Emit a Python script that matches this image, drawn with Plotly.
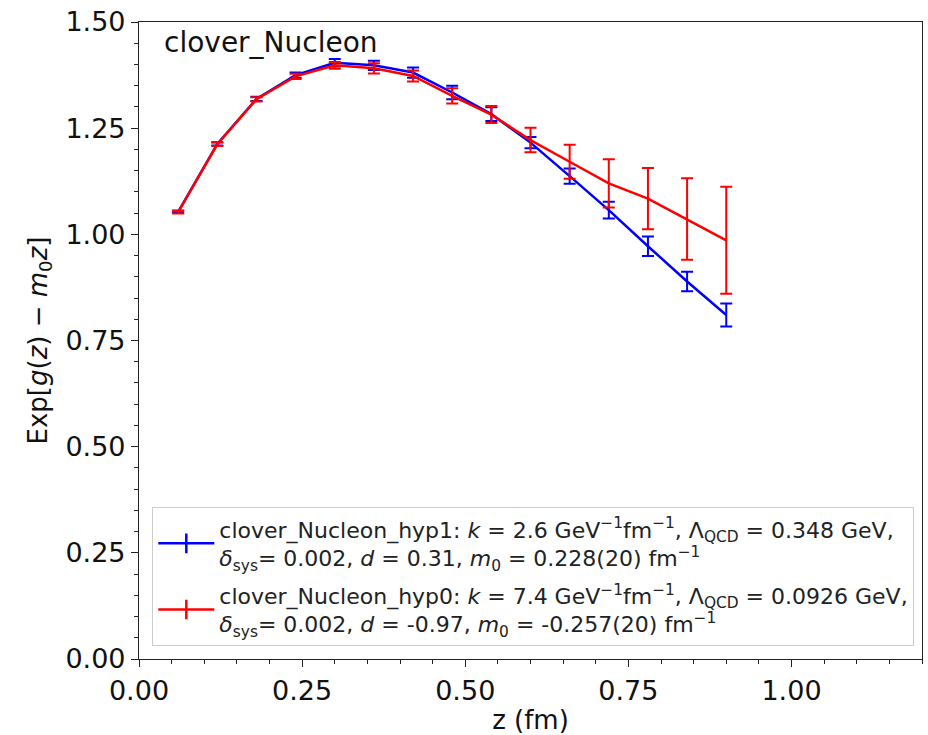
import plotly.graph_objects as go

z = [0.06, 0.12, 0.18, 0.24, 0.30, 0.36, 0.42, 0.48, 0.54, 0.60, 0.66, 0.72, 0.78, 0.84, 0.90]

hyp1_y = [1.053, 1.213, 1.319, 1.375, 1.404, 1.398, 1.381, 1.334, 1.283, 1.216, 1.137, 1.057, 0.972, 0.889, 0.810]
hyp1_err = [0.003, 0.004, 0.005, 0.006, 0.009, 0.011, 0.012, 0.016, 0.016, 0.013, 0.018, 0.020, 0.023, 0.023, 0.027]

hyp0_y = [1.052, 1.212, 1.318, 1.372, 1.398, 1.391, 1.373, 1.326, 1.282, 1.222, 1.171, 1.120, 1.084, 1.036, 0.986]
hyp0_err = [0.003, 0.004, 0.005, 0.006, 0.008, 0.012, 0.013, 0.018, 0.020, 0.029, 0.040, 0.057, 0.072, 0.096, 0.126]

name1 = ("clover_Nucleon_hyp1: <i>k</i> = 2.6 GeV<sup>\u22121</sup>fm<sup>\u22121</sup>, "
         "\u039b<sub>QCD</sub> = 0.348 GeV,<br><i>\u03b4</i><sub>sys</sub>= 0.002, <i>d</i> = 0.31, "
         "<i>m</i><sub>0</sub> = 0.228(20) fm<sup>\u22121</sup>")
name0 = ("clover_Nucleon_hyp0: <i>k</i> = 7.4 GeV<sup>\u22121</sup>fm<sup>\u22121</sup>, "
         "\u039b<sub>QCD</sub> = 0.0926 GeV,<br><i>\u03b4</i><sub>sys</sub>= 0.002, <i>d</i> = -0.97, "
         "<i>m</i><sub>0</sub> = -0.257(20) fm<sup>\u22121</sup>")

BLUE = "#0000ff"
RED = "#ff0000"

fig = go.Figure()
for y, e, c in [(hyp1_y, hyp1_err, BLUE), (hyp0_y, hyp0_err, RED)]:
    fig.add_trace(go.Scatter(
        x=z, y=y, mode="lines", line=dict(color=c, width=2.5),
        error_y=dict(type="data", array=e, color=c, thickness=2, width=6),
        showlegend=False, hoverinfo="skip"))

for nm, c, g in [(name1, BLUE, "g1"), (name0, RED, "g0")]:
    fig.add_trace(go.Scatter(
        x=[None], y=[None], mode="lines+markers", name=nm, legendgroup=g,
        line=dict(color=c, width=2.5),
        marker=dict(symbol="line-ns-open", size=14, color=c, line=dict(color=c, width=2.5))))

axis_common = dict(
    showline=True, linecolor="#222", linewidth=1.2, mirror=True,
    ticks="outside", ticklen=7, tickwidth=1.2, tickcolor="#222",
    showgrid=False, zeroline=False,
    tickfont=dict(family="DejaVu Sans", size=27, color="#111"),
    tickformat=".2f",
)

fig.update_xaxes(range=[0, 1.2], dtick=0.25, tick0=0,
                 minor=dict(dtick=0.05, ticks="outside", ticklen=4, tickcolor="#222"),
                 title=dict(text="z (fm)", font=dict(family="DejaVu Sans", size=26, color="#111"), standoff=2),
                 **axis_common)
fig.update_yaxes(range=[0, 1.5], dtick=0.25, tick0=0,
                 minor=dict(dtick=0.05, ticks="outside", ticklen=4, tickcolor="#222"),
                 title=dict(text="Exp[<i>g</i>(<i>z</i>) \u2212 <i>m</i><sub>0</sub><i>z</i>]",
                            font=dict(family="DejaVu Sans", size=26, color="#111"), standoff=10),
                 **axis_common)

fig.add_annotation(x=0.03, y=0.997, xref="paper", yref="paper", xanchor="left", yanchor="top",
                   text="clover_Nucleon", showarrow=False,
                   font=dict(family="DejaVu Sans", size=28, color="#111"))

fig.update_layout(
    width=928, height=735,
    margin=dict(l=139, r=6, t=22, b=76),
    plot_bgcolor="white", paper_bgcolor="white",
    legend=dict(x=0.017, y=0.02, xanchor="left", yanchor="bottom",
                bgcolor="rgba(255,255,255,0.8)", bordercolor="#cccccc", borderwidth=1,
                font=dict(family="DejaVu Sans", size=22, color="#222"),
                itemwidth=56, tracegroupgap=6),
)

fig.write_html("out.html")
